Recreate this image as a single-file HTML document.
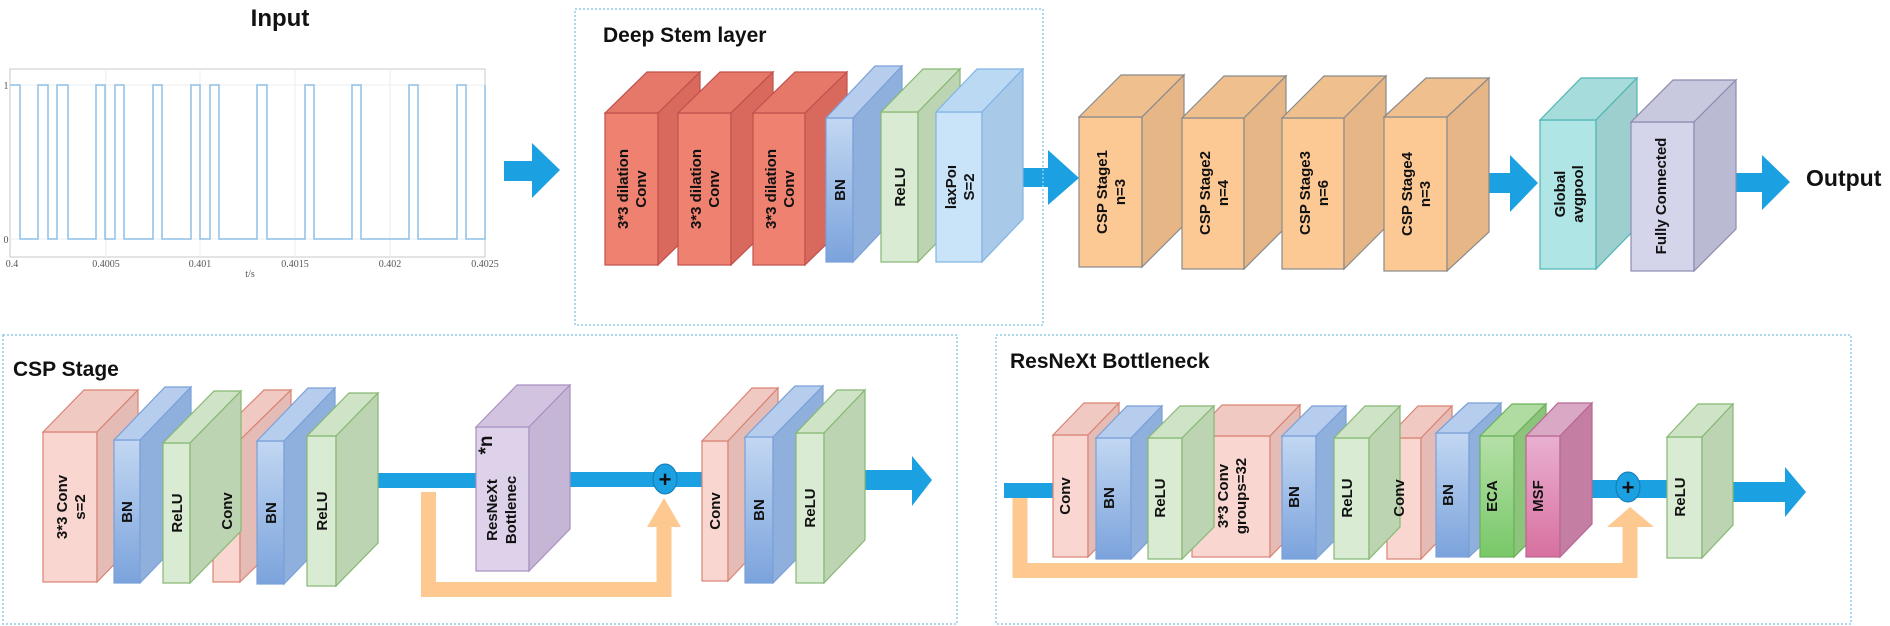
<!DOCTYPE html>
<html><head><meta charset="utf-8"><style>
html,body{margin:0;padding:0;background:#fff;}
svg{display:block;}
.t{font-family:"Liberation Sans",sans-serif;font-weight:bold;fill:#111;}
.l{font-family:"Liberation Sans",sans-serif;font-weight:bold;font-size:15px;fill:#111;text-anchor:middle;}
.s{font-family:"Liberation Serif",serif;font-size:10px;fill:#555;text-anchor:middle;}
</style></head><body>
<svg width="1890" height="626" viewBox="0 0 1890 626" xmlns="http://www.w3.org/2000/svg">
<defs>
<linearGradient id="bn" x1="0" y1="0" x2="0" y2="1"><stop offset="0" stop-color="#c2d7f2"/><stop offset="1" stop-color="#7ba3dc"/></linearGradient>
<linearGradient id="msf" x1="0" y1="0" x2="0" y2="1"><stop offset="0" stop-color="#e9b0d2"/><stop offset="1" stop-color="#d8709f"/></linearGradient>
<linearGradient id="eca" x1="0" y1="0" x2="0" y2="1"><stop offset="0" stop-color="#b5e0a8"/><stop offset="1" stop-color="#78c868"/></linearGradient>
</defs>

<!-- Input -->
<text class="t" x="280" y="26" font-size="24" text-anchor="middle">Input</text>
<rect x="10" y="69" width="475" height="188" fill="#fff" stroke="#c8c8c8"/>
<g stroke="#ececec"><line x1="106" y1="69" x2="106" y2="257"/><line x1="200" y1="69" x2="200" y2="257"/><line x1="295" y1="69" x2="295" y2="257"/><line x1="390" y1="69" x2="390" y2="257"/><line x1="10" y1="85" x2="485" y2="85"/><line x1="10" y1="239" x2="485" y2="239"/></g>
<path d="M10,85 H20 V239 H38 V85 H48 V239 H57 V85 H68 V239 H96 V85 H105 V239 H115 V85 H124 V239 H153 V85 H162 V239 H191 V85 H200 V239 H210 V85 H219 V239 H257 V85 H267 V239 H305 V85 H314 V239 H352 V85 H361 V239 H409 V85 H418 V239 H457 V85 H466 V239 H485 V85" fill="none" stroke="#8ec0e8" stroke-width="1.5"/>
<text class="s" x="6" y="89">1</text><text class="s" x="6" y="243">0</text>
<text class="s" x="12" y="267">0.4</text><text class="s" x="106" y="267">0.4005</text><text class="s" x="200" y="267">0.401</text><text class="s" x="295" y="267">0.4015</text><text class="s" x="390" y="267">0.402</text><text class="s" x="485" y="267">0.4025</text>
<text class="s" x="250" y="277">t/s</text>

<!-- blue arrows top -->
<g fill="#1ba1e2">
<polygon points="504,161 532,161 532,143 560,170 532,198 532,181 504,181"/>
<polygon points="1023,168 1048,168 1048,150 1079,178 1048,205 1048,187 1023,187"/>
<polygon points="1454,173 1510,173 1510,155 1538,183 1510,212 1510,193 1454,193"/>
<polygon points="1705,173 1762,173 1762,155 1790,182 1762,210 1762,192 1705,192"/>
</g>
<text class="t" x="1806" y="186" font-size="23">Output</text>

<!-- dashed boxes -->
<g fill="none" stroke="#8fcbe8" stroke-width="1.5" stroke-dasharray="2,2">
<rect x="575" y="9" width="468" height="316"/>
<rect x="3" y="335" width="954" height="289"/>
<rect x="996" y="335" width="855" height="289"/>
</g>
<text class="t" x="603" y="42" font-size="21">Deep Stem layer</text>
<text class="t" x="13" y="376" font-size="21">CSP Stage</text>
<text class="t" x="1010" y="368" font-size="21">ResNeXt Bottleneck</text>

<!-- Deep stem red convs -->
<g stroke="#c0504d" stroke-width="1.2">
<rect x="605" y="113" width="53" height="152" fill="#ef8170"/><polygon points="605,113 647,72 700,72 658,113" fill="#e57868"/><polygon points="658,113 700,72 700,224 658,265" fill="#d9695c"/>
<rect x="678" y="113" width="53" height="152" fill="#ef8170"/><polygon points="678,113 720,72 773,72 731,113" fill="#e57868"/><polygon points="731,113 773,72 773,224 731,265" fill="#d9695c"/>
<rect x="753" y="113" width="52" height="152" fill="#ef8170"/><polygon points="753,113 795,72 847,72 805,113" fill="#e57868"/><polygon points="805,113 847,72 847,224 805,265" fill="#d9695c"/>
</g>
<g stroke="#7aa0d8" stroke-width="1.2"><rect x="826" y="118" width="27" height="144" fill="url(#bn)"/><polygon points="826,118 875,66 902,66 853,118" fill="#b6cdee"/><polygon points="853,118 902,66 902,210 853,262" fill="#8fb0dc"/></g>
<g stroke="#86b874" stroke-width="1.2"><rect x="881" y="112" width="37" height="150" fill="#d9ebd2"/><polygon points="881,112 923,69 960,69 918,112" fill="#cfe3c6"/><polygon points="918,112 960,69 960,219 918,262" fill="#bcd4b2"/></g>
<g stroke="#80b4e4" stroke-width="1.2"><rect x="936" y="112" width="46" height="150" fill="#c9e3f8"/><polygon points="936,112 977,69 1023,69 982,112" fill="#bcd9f3"/><polygon points="982,112 1023,69 1023,219 982,262" fill="#a9c9e8"/></g>
<g class="l">
<text transform="translate(631,189) rotate(-90)"><tspan x="0" y="-3">3*3 dilation</tspan><tspan x="0" y="15">Conv</tspan></text>
<text transform="translate(704,189) rotate(-90)"><tspan x="0" y="-3">3*3 dilation</tspan><tspan x="0" y="15">Conv</tspan></text>
<text transform="translate(779,189) rotate(-90)"><tspan x="0" y="-3">3*3 dilation</tspan><tspan x="0" y="15">Conv</tspan></text>
<text transform="translate(845,190) rotate(-90)">BN</text>
<text transform="translate(905,187) rotate(-90)">ReLU</text>
<text transform="translate(959,187) rotate(-90)"><tspan x="0" y="-3">laxPoı</tspan><tspan x="0" y="15">S=2</tspan></text>
</g>

<!-- CSP stages -->
<g stroke="#8a8a8a" stroke-width="1.2">
<rect x="1079" y="117" width="63" height="150" fill="#fcc894"/><polygon points="1079,117 1121,75 1184,75 1142,117" fill="#f0bf8e"/><polygon points="1142,117 1184,75 1184,225 1142,267" fill="#e6b686"/>
<rect x="1182" y="118" width="62" height="151" fill="#fcc894"/><polygon points="1182,118 1224,76 1286,76 1244,118" fill="#f0bf8e"/><polygon points="1244,118 1286,76 1286,227 1244,269" fill="#e6b686"/>
<rect x="1282" y="118" width="62" height="151" fill="#fcc894"/><polygon points="1282,118 1324,76 1386,76 1344,118" fill="#f0bf8e"/><polygon points="1344,118 1386,76 1386,227 1344,269" fill="#e6b686"/>
<rect x="1384" y="117" width="63" height="154" fill="#fcc894"/><polygon points="1384,117 1426,78 1489,78 1447,117" fill="#f0bf8e"/><polygon points="1447,117 1489,78 1489,232 1447,271" fill="#e6b686"/>
</g>
<g stroke="#4fb5b3" stroke-width="1.2"><rect x="1540" y="120" width="56" height="149" fill="#b0e5e5"/><polygon points="1540,120 1581,78 1637,78 1596,120" fill="#a6dcdb"/><polygon points="1596,120 1637,78 1637,227 1596,269" fill="#9ccfcd"/></g>
<g stroke="#8c8cb0" stroke-width="1.2"><rect x="1631" y="122" width="63" height="149" fill="#d4d4ea"/><polygon points="1631,122 1673,80 1736,80 1694,122" fill="#c8c8de"/><polygon points="1694,122 1736,80 1736,229 1694,271" fill="#babad2"/></g>
<g class="l">
<text transform="translate(1110,192) rotate(-90)"><tspan x="0" y="-3">CSP Stage1</tspan><tspan x="0" y="15">n=3</tspan></text>
<text transform="translate(1213,193) rotate(-90)"><tspan x="0" y="-3">CSP Stage2</tspan><tspan x="0" y="15">n=4</tspan></text>
<text transform="translate(1313,193) rotate(-90)"><tspan x="0" y="-3">CSP Stage3</tspan><tspan x="0" y="15">n=6</tspan></text>
<text transform="translate(1415,194) rotate(-90)"><tspan x="0" y="-3">CSP Stage4</tspan><tspan x="0" y="15">n=3</tspan></text>
<text transform="translate(1568,194) rotate(-90)"><tspan x="0" y="-3">Global</tspan><tspan x="0" y="15">avgpool</tspan></text>
<text transform="translate(1666,196) rotate(-90)">Fully Connected</text>
</g>

<!-- CSP Stage detail -->
<path d="M428.5,492 V589.5 H664 V527" fill="none" stroke="#fdc991" stroke-width="15"/>
<polygon points="647,527 664,498 681,527" fill="#fdc991"/>
<rect x="359" y="473" width="117" height="15" fill="#1ba1e2"/>
<rect x="559" y="472" width="143" height="15" fill="#1ba1e2"/>
<polygon points="865,470 912,470 912,456 932,480 912,506 912,490 865,490" fill="#1ba1e2"/>
<ellipse cx="665" cy="479" rx="12" ry="15" fill="#1ba1e2" stroke="#1578b0"/>
<text class="t" x="665" y="487" font-size="22" text-anchor="middle">+</text>

<g stroke="#d98374" stroke-width="1.2">
<rect x="43" y="432" width="54" height="150" fill="#f9d6d0"/><polygon points="43,432 84,390 138,390 97,432" fill="#f0c9c2"/><polygon points="97,432 138,390 138,540 97,582" fill="#e4bcb5"/>
<rect x="213" y="440" width="27" height="142" fill="#f9d6d0"/><polygon points="213,440 264,390 291,390 240,440" fill="#f0c9c2"/><polygon points="240,440 291,390 291,532 240,582" fill="#e4bcb5"/>
<rect x="702" y="441" width="26" height="140" fill="#f9d6d0"/><polygon points="702,441 752,388 778,388 728,441" fill="#f0c9c2"/><polygon points="728,441 778,388 778,528 728,581" fill="#e4bcb5"/>
</g>
<g stroke="#7aa0d8" stroke-width="1.2">
<rect x="114" y="440" width="26" height="143" fill="url(#bn)"/><polygon points="114,440 165,387 191,387 140,440" fill="#b6cdee"/><polygon points="140,440 191,387 191,530 140,583" fill="#8fb0dc"/>
<rect x="257" y="441" width="27" height="143" fill="url(#bn)"/><polygon points="257,441 308,388 335,388 284,441" fill="#b6cdee"/><polygon points="284,441 335,388 335,531 284,584" fill="#8fb0dc"/>
<rect x="745" y="437" width="28" height="146" fill="url(#bn)"/><polygon points="745,437 795,386 823,386 773,437" fill="#b6cdee"/><polygon points="773,437 823,386 823,532 773,583" fill="#8fb0dc"/>
</g>
<g stroke="#86b874" stroke-width="1.2">
<rect x="163" y="443" width="27" height="140" fill="#d9ebd2"/><polygon points="163,443 214,391 241,391 190,443" fill="#cfe3c6"/><polygon points="190,443 241,391 241,531 190,583" fill="#bcd4b2"/>
<rect x="307" y="436" width="29" height="150" fill="#d9ebd2"/><polygon points="307,436 349,393 378,393 336,436" fill="#cfe3c6"/><polygon points="336,436 378,393 378,543 336,586" fill="#bcd4b2"/>
<rect x="796" y="433" width="28" height="150" fill="#d9ebd2"/><polygon points="796,433 837,390 865,390 824,433" fill="#cfe3c6"/><polygon points="824,433 865,390 865,540 824,583" fill="#bcd4b2"/>
</g>
<g stroke="#a890c0" stroke-width="1.2"><rect x="476" y="427" width="53" height="144" fill="#ded2ea"/><polygon points="476,427 517,385 570,385 529,427" fill="#d2c4e0"/><polygon points="529,427 570,385 570,529 529,571" fill="#c6b6d6"/></g>
<g class="l">
<text transform="translate(70,507) rotate(-90)"><tspan x="0" y="-3">3*3 Conv</tspan><tspan x="0" y="15">s=2</tspan></text>
<text transform="translate(132,512) rotate(-90)">BN</text>
<text transform="translate(182,513) rotate(-90)">ReLU</text>
<text transform="translate(232,511) rotate(-90)">Conv</text>
<text transform="translate(276,513) rotate(-90)">BN</text>
<text transform="translate(327,511) rotate(-90)">ReLU</text>
<text transform="translate(497,510) rotate(-90)">ResNeXt</text>
<text transform="translate(516,510) rotate(-90)">Bottlenec</text>
<text transform="translate(492,445) rotate(-90)" font-size="19">*n</text>
<text transform="translate(720,511) rotate(-90)">Conv</text>
<text transform="translate(764,510) rotate(-90)">BN</text>
<text transform="translate(815,508) rotate(-90)">ReLU</text>
</g>

<!-- ResNeXt detail -->
<path d="M1020,498 V570.5 H1630 V527" fill="none" stroke="#fdc991" stroke-width="15"/>
<polygon points="1607,527 1630,507 1654,527" fill="#fdc991"/>
<rect x="1004" y="483" width="50" height="15" fill="#1ba1e2"/>
<rect x="1582" y="480" width="85" height="18" fill="#1ba1e2"/>
<polygon points="1725,482 1785,482 1785,467 1806,492 1785,517 1785,502 1725,502" fill="#1ba1e2"/>
<ellipse cx="1628" cy="487" rx="12" ry="15" fill="#1ba1e2" stroke="#1578b0"/>
<text class="t" x="1628" y="495" font-size="22" text-anchor="middle">+</text>

<g stroke="#d98374" stroke-width="1.2">
<rect x="1053" y="435" width="35" height="122" fill="#f9d6d0"/><polygon points="1053,435 1084,403 1119,403 1088,435" fill="#f0c9c2"/><polygon points="1088,435 1119,403 1119,525 1088,557" fill="#e4bcb5"/>
<rect x="1192" y="436" width="78" height="121" fill="#f9d6d0"/><polygon points="1192,436 1222,405 1300,405 1270,436" fill="#f0c9c2"/><polygon points="1270,436 1300,405 1300,526 1270,557" fill="#e4bcb5"/>
<rect x="1387" y="438" width="34" height="121" fill="#f9d6d0"/><polygon points="1387,438 1418,406 1452,406 1421,438" fill="#f0c9c2"/><polygon points="1421,438 1452,406 1452,527 1421,559" fill="#e4bcb5"/>
</g>
<g stroke="#7aa0d8" stroke-width="1.2">
<rect x="1096" y="438" width="35" height="121" fill="url(#bn)"/><polygon points="1096,438 1127,406 1162,406 1131,438" fill="#b6cdee"/><polygon points="1131,438 1162,406 1162,527 1131,559" fill="#8fb0dc"/>
<rect x="1282" y="436" width="34" height="123" fill="url(#bn)"/><polygon points="1282,436 1312,406 1346,406 1316,436" fill="#b6cdee"/><polygon points="1316,436 1346,406 1346,529 1316,559" fill="#8fb0dc"/>
<rect x="1436" y="433" width="33" height="124" fill="url(#bn)"/><polygon points="1436,433 1468,403 1501,403 1469,433" fill="#b6cdee"/><polygon points="1469,433 1501,403 1501,527 1469,557" fill="#8fb0dc"/>
</g>
<g stroke="#86b874" stroke-width="1.2">
<rect x="1148" y="438" width="34" height="121" fill="#d9ebd2"/><polygon points="1148,438 1180,406 1214,406 1182,438" fill="#cfe3c6"/><polygon points="1182,438 1214,406 1214,527 1182,559" fill="#bcd4b2"/>
<rect x="1334" y="438" width="35" height="121" fill="#d9ebd2"/><polygon points="1334,438 1365,406 1400,406 1369,438" fill="#cfe3c6"/><polygon points="1369,438 1400,406 1400,527 1369,559" fill="#bcd4b2"/>
<rect x="1667" y="437" width="35" height="121" fill="#d9ebd2"/><polygon points="1667,437 1698,404 1733,404 1702,437" fill="#cfe3c6"/><polygon points="1702,437 1733,404 1733,525 1702,558" fill="#bcd4b2"/>
</g>
<g stroke="#6ab05a" stroke-width="1.2"><rect x="1480" y="436" width="34" height="121" fill="url(#eca)"/><polygon points="1480,436 1512,404 1546,404 1514,436" fill="#b0dca2"/><polygon points="1514,436 1546,404 1546,525 1514,557" fill="#8cc47c"/></g>
<g stroke="#b86890" stroke-width="1.2"><rect x="1526" y="436" width="34" height="121" fill="url(#msf)"/><polygon points="1526,436 1558,403 1592,403 1560,436" fill="#d8a8c4"/><polygon points="1560,436 1592,403 1592,524 1560,557" fill="#c47ea4"/></g>
<g class="l">
<text transform="translate(1070,496) rotate(-90)">Conv</text>
<text transform="translate(1114,498) rotate(-90)">BN</text>
<text transform="translate(1165,498) rotate(-90)">ReLU</text>
<text transform="translate(1231,496) rotate(-90)"><tspan x="0" y="-3">3*3 Conv</tspan><tspan x="0" y="15">groups=32</tspan></text>
<text transform="translate(1299,497) rotate(-90)">BN</text>
<text transform="translate(1352,498) rotate(-90)">ReLU</text>
<text transform="translate(1404,498) rotate(-90)">Conv</text>
<text transform="translate(1453,495) rotate(-90)">BN</text>
<text transform="translate(1497,496) rotate(-90)">ECA</text>
<text transform="translate(1543,496) rotate(-90)">MSF</text>
<text transform="translate(1685,497) rotate(-90)">ReLU</text>
</g>
</svg>
</body></html>
